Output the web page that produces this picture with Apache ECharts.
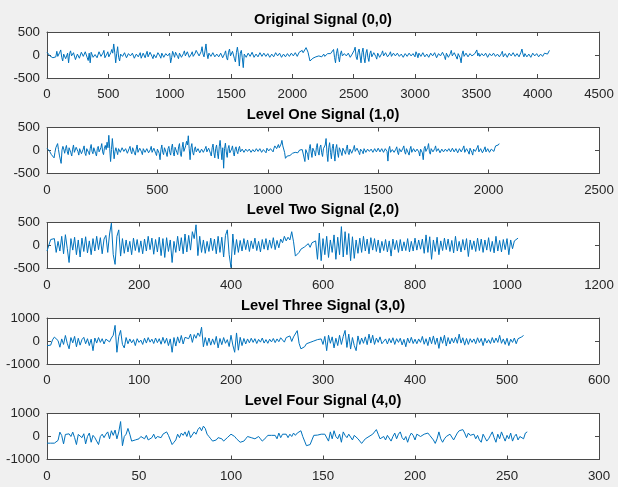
<!DOCTYPE html>
<html>
<head>
<meta charset="utf-8">
<script src="https://cdn.jsdelivr.net/npm/echarts@6/dist/echarts.min.js"></script>
<style>
  html, body { margin: 0; padding: 0; background: #f0f0f0; }
  #chart { width: 618px; height: 487px; }
</style>
</head>
<body>
<div id="chart"></div>
<script>
// ---- Data ----
const titles = ['Original Signal (0,0)', 'Level One Signal (1,0)', 'Level Two Signal (2,0)', 'Level Three Signal (3,0)', 'Level Four Signal (4,0)'];
const xMaxes = [4500, 2500, 1200, 600, 300];
const xIntervals = [500, 500, 200, 100, 50];
const yMaxes = [500, 500, 500, 1000, 1000];
const sampleSteps = [8, 4, 4, 2, 1];

const originalSignal = [
  60, 20, 40, -20, 0, -50, -60, -90, -100, -40, 80, -30, -40, 60, 110, -50, -130, 20, 60, -80,
  -50, 40, -170, 30, 90, -20, -60, 50, 70, -100, -100, 20, 50, -70, -90, 60, 100, -30, -40, 70,
  80, -60, -120, 40, -170, 60, 60, -50, -70, 10, 40, -60, -80, 70, 90, -30, -50, 40, 100, -60,
  -90, 20, 70, -40, -60, 50, 120, 40, 240, 60, -170, 30, 180, -50, -130, 20, 60, -30, -70, 50,
  50, -60, -40, 30, 70, -20, -60, 40, 30, -70, -80, 20, 60, -40, -20, 50, -70, -30, 40, 60,
  -60, 20, 80, -40, -50, 60, 70, -30, -80, 10, 30, -60, -40, 50, 90, -20, -70, 40, 50, -50,
  -90, 30, 60, -20, -30, 40, -170, -60, 80, 20, -50, 60, 60, -30, -80, 40, 40, -50, -70, 30,
  90, -20, -40, 70, 60, -50, -90, 20, 70, -30, -60, 40, 100, 60, 120, -20, -60, 70, 180, 20,
  -40, 90, 240, 30, -80, 40, 60, -30, -50, 50, 30, -40, -60, 20, 50, -40, -30, 40, 40, -60,
  -70, 30, 90, -60, -110, 60, 130, -20, -60, 80, 110, -80, -150, 50, 170, 20, -240, 40, 100, -60,
  -275, 20, 60, -50, -80, 40, 80, -30, -40, 60, 70, -50, -90, 20, 30, -40, -60, 50, 50, -30,
  -70, 40, 60, -30, -40, 30, 50, -50, -60, 20, 30, -40, -50, 50, 60, -20, -30, 40, 40, -50,
  -60, 20, 50, -40, -20, 30, 60, -30, -50, 40, 70, -20, -10, 50, 40, -30, -30, 60, 80, 20,
  100, 50, 30, 90, 160, 120, 60, -40, -130, -90, -110, -70, -80, -40, -40, -60, -60, -20, -10, -50,
  -40, 0, 20, -30, -20, 10, 30, -10, 0, 30, 40, 60, 120, -50, -170, 40, 140, -30, -150, 20,
  90, -20, -40, 30, 50, -20, -30, 40, 40, -50, -50, 20, 30, 100, 170, -40, -100, 60, 130, -20,
  -170, 50, 150, -60, -170, 40, 120, -50, -140, 30, 90, -40, -60, 50, 80, -30, -90, 40, 50, -50,
  -70, 30, 90, -20, -40, 50, 60, -40, -80, 20, 70, -30, -50, 40, 40, -20, -30, 40, 50, -30,
  -40, 20, 30, -50, -50, 30, 40, -30, -20, 40, 50, -20, -40, 30, 30, -40, 70, 20, -60, 40,
  80, -30, -50, 50, 60, -40, -80, 20, 40, -50, -70, 40, 80, -20, -30, 50, 60, -60, -60, 30,
  70, -20, -40, 60, 90, -30, -100, 40, 60, -50, -80, 30, 100, -20, -60, 50, 80, -40, -90, 30,
  50, -60, -170, 20, 90, -30, -70, 40, 60, -40, -50, 30, 40, -20, -60, 20, 30, 40, 110, -20,
  40, -30, -50, 30, 60, -20, -40, 40, 20, -50, -60, 30, 50, -20, -30, 40, 40, -30, -50, 20,
  60, -40, -20, 30, 80, -40, -70, 30, 60, -50, -80, 40, 70, -20, -40, 50, 90, -30, -60, 30,
  50, -40, -80, 60, 130, 20, -40, 30, 60, -40, -70, 20, 30, -50, -60, 40, 70, -20, -50, 30,
  40, -40, -60, 20, 60, -30, -30, 40, 50, 30, 20, 60, 100
];

const levelOneSignal = [
  50, 20, 40, -20, -30, -90, -130, -100, -160, -40, 60, 80, 150, 20, -100, -60, -280, 10, 90, 30,
  -60, 40, 110, -30, -90, 60, 70, -50, -120, 30, 120, -40, -60, 70, 90, -20, -100, 40, 50, -70,
  -80, 30, 100, -60, -110, 40, 60, -40, -90, 50, 130, -20, -70, 60, 80, -60, -120, 40, 90, -30,
  -60, 60, 150, -30, -90, 50, 110, 20, 180, 60, 330, 40, -240, 20, 260, 30, -180, -20, 60, 20,
  -90, 40, 80, -40, -70, 60, 100, -20, -60, 40, 50, -60, -90, 40, 90, -20, -70, 60, 40, -50,
  -100, 30, 120, -40, -60, 50, 70, -30, -90, 40, 80, -40, -50, 40, 60, -50, -80, 20, 90, -40,
  -60, 50, 70, -60, -110, 30, 50, -60, -200, 20, 120, -40, -90, 60, 100, -50, -130, 40, 90, -40,
  -100, 60, 140, -50, -120, 70, 110, -40, -90, 80, 150, -60, -130, 60, 180, -20, -60, 100, 200, 120,
  320, 40, -200, 60, 150, -40, -100, 30, 80, -30, -60, 40, 70, -50, -80, 30, 50, -40, -70, 40,
  90, -30, -60, 50, 80, -60, -120, 60, 140, -50, -160, 40, 120, -60, -180, 80, 220, 20, -200, 60,
  -385, 40, 160, -30, -150, 40, 110, -50, -90, 30, 100, -40, -120, 30, 80, -20, -70, 40, 90, -30,
  -60, 30, 50, -40, -80, 30, 70, -20, -40, 30, 60, -40, -70, 20, 50, -30, -50, 40, 80, -20,
  -30, 40, 60, -40, -70, 20, 40, -20, -50, 50, 90, -10, -40, 40, 70, 10, -30, 50, 100, 60,
  40, 80, 130, 60, 80, 140, 220, 100, 60, -40, -170, -140, -120, -100, -90, -110, -110, -80, -60, -90,
  -80, -40, -30, -60, -50, -10, 10, -30, -20, 20, 40, 0, -240, 20, 60, -80, -200, 40, 130, -30,
  -150, 50, 90, -40, -120, 60, 150, -30, -100, 70, 120, -50, -130, 40, 80, 120, 260, -60, -240, 60,
  170, -40, -180, 50, 140, -60, -230, 40, 130, -50, -150, 60, 100, -40, -110, 50, 90, -30, -80, 40,
  120, -40, -90, 30, 70, -60, -100, 40, 110, -20, -60, 50, 80, -40, -90, 30, 60, -20, -70, 40,
  50, -40, -60, 30, 70, -20, -40, 30, 60, -40, -50, 40, 80, -30, -60, 50, 40, -30, -50, 40,
  70, -40, -80, 40, 60, -20, -230, 30, 90, -40, -70, 20, 50, -40, -60, 30, 80, -40, -90, 40,
  70, -30, -60, 50, 100, -30, -80, 40, 60, -50, -100, 30, 90, -40, -70, 40, 80, -30, -60, 30,
  50, -30, -120, 30, 70, -50, -200, 40, 90, -20, -60, 60, 150, -30, -80, 40, 60, -30, -70, 40,
  100, -20, -50, 40, 80, -50, -90, 30, 60, -30, -70, 30, 50, -20, -60, 40, 80, -30, -40, 50,
  70, -30, -60, 40, 50, -50, -90, 40, 80, -30, -60, 50, 100, -40, -70, 40, 60, -30, -80, 50,
  90, -40, -100, 30, 70, -20, -50, 60, 110, -30, -60, 40, 60, -50, -90, 30, 80, -30, -50, 40,
  70, -40, -80, 30, 60, -10, -20, 50, 100, 60, 90, 120, 150
];

const levelTwoSignal = [
  -120, -100, 130, 100, 150, -150, 90, -120, 200, -180,
  235, -60, -370, 150, -100, 180, -200, 120, -250, 160,
  -130, 190, -160, 100, -200, 150, -120, 200, -90, 170,
  -180, 140, 220, -150, 250, 485, -200, -410, 200, 340,
  -230, 150, -170, 120, -140, 90, -200, 160, -110, 130,
  -150, 100, -180, 140, -120, 200, -90, 160, -190, 130,
  -140, 180, -220, 150, -260, 170, -130, 120, -370, 90,
  -150, 200, -120, 170, -180, 250, -140, 220, -100, 300,
  150, 450, -220, 200, -150, 120, -170, 90, -130, 160,
  -110, 140, -180, 200, -150, 180, -250, 220, 340, -200,
  -480, 250, -200, 130, -150, 110, -120, 150, -90, 120,
  -130, 100, -70, 160, -110, 90, -140, 130, -80, 150,
  -100, 120, -60, 170, -90, 110, -50, 140, 60, 200,
  100, 180, 120, 300, 80, -230, -200, -150, -80, -120,
  -30, -70, 40, -40, 60, 20, 100, -300, 270, -330,
  150, -200, 200, -260, 120, -150, 230, -300, 180, -200,
  410, -250, 300, -200, 260, -330, 190, -280, 120, -170,
  160, -150, 200, -120, 140, -180, 170, -100, 150, -130,
  120, -160, 90, -110, 130, -140, 100, -230, 140, -90,
  110, -150, 130, -120, 80, -110, 150, -140, 90, -120,
  160, -100, 120, -80, 140, -170, 230, -150, 190, -300,
  120, -130, 180, -200, 100, -110, 160, -90, 140, -130,
  110, -160, 200, -120, 90, -140, 130, -100, 150, -240,
  120, -90, 100, -130, 160, -110, 140, -150, 120, -100,
  170, -130, 90, -160, 200, -120, 110, -140, 130, -90,
  150, -200, 120, -70, 100, 60, 160
];

const levelThreeSignal = [
  -200, -200, -180, 50, 170, 130, 20, -270, 90, -150,
  240, -100, -340, 150, -80, 200, -250, 120, -180, 60,
  160, -120, 100, -200, 80, -420, 130, -90, 150, -60,
  100, -130, 80, 160, -40, 130, 250, 680, -490, 200,
  460, -150, -300, 150, -120, 90, -80, 60, -200, 100,
  -60, 40, -150, 120, -90, 150, -50, 80, -110, 130,
  -70, 100, -140, 160, -100, 120, -200, 90, -490, 150,
  -220, 180, -90, 240, -130, 160, 220, 100, 300, -60,
  280, 120, 350, 200, 600, -250, 150, -200, 130, -180,
  90, -150, 200, -300, 110, -160, 150, -100, 60, -240,
  250, -180, -490, 350, -400, 160, -200, 110, -130, 90,
  -80, 120, -60, 100, -110, 70, -50, 130, -90, 60,
  -100, 80, -40, 110, -70, 90, -30, 140, 60, -50,
  150, 80, 220, -20, 180, 100, 450, -100, -340, -300,
  -250, -120, -160, -60, -90, 0, -40, 60, 20, 90,
  -150, 200, -420, 250, -100, 180, -300, 120, -200, 250,
  -150, 200, 460, -280, 300, -350, 150, -200, -420, 220,
  -150, 130, -100, 180, -160, 300, -90, 250, -150, 130,
  -60, 180, -120, -200, 90, -130, 110, -80, 140, -150,
  100, -60, 120, -170, 70, -250, 130, -90, 160, -110,
  80, -120, 90, -60, 200, -140, 100, -200, 170, -120,
  220, -150, 130, -320, 180, -100, 250, -220, 150, -130,
  120, -80, 160, -100, 300, -90, 140, -180, 110, -150,
  100, -60, 90, -120, 140, -70, 110, -200, 120, -90,
  60, -110, 150, -80, 130, -60, 250, -100, 90, -150,
  120, -200, 80, -60, 130, -120, 100, 60, 180, 240
];

const levelFourSignal = [
  -290, -290, -290, -290, -290, -290, -170, 190, 40, -320,
  90, 145, 115, 0, 190, -50, -350, 90, 150, -50,
  120, -320, 0, 150, -250, 50, -50, -100, -350, 0,
  100, -50, 100, 200, -100, 250, 50, 280, -100, 200,
  650, -400, 0, 100, 350, 100, -200, -250, -150, -150,
  -100, 0, -50, -100, 50, -150, -200, -50, 100, -100,
  0, 50, -50, 100, 100, 200, 50, -150, -350, -250,
  -150, 100, -50, 150, 50, 200, 0, 250, -50, -100,
  200, 100, 300, 400, 250, 450, 350, 100, 0, -100,
  -200, -250, -150, -50, 0, -100, -200, -150, -50, 0,
  100, 50, 0, -100, -150, -250, -300, -200, -100, 0,
  50, -50, 0, -100, -50, 0, -100, -200, -150, -50,
  50, 100, 50, 0, 50, -100, 150, -50, 100, 150,
  100, -50, 100, 0, 150, 50, 150, 200, 250, 0,
  -200, -400, -420, -350, -150, 50, 80, 60, 80, 100,
  80, 100, 120, -200, 200, -100, 250, 0, -100, 100,
  -250, 200, 50, -50, 100, 150, -150, 50, 0, -100,
  -150, -300, -200, -100, -150, 0, 50, 100, 150, 300,
  100, -100, -50, 0, -150, 50, 100, -200, 0, 150,
  -100, 100, 200, -50, -150, 0, -250, 0, 150, 50,
  -150, 100, 150, 0, -50, 100, 50, 150, 50, 0,
  -150, -300, -100, 200, -100, -250, -100, 0, -50, 100,
  50, -150, -100, 150, 250, 200, 300, 150, -50, 150,
  50, 0, 100, -100, 50, -150, -250, 100, -50, -200,
  -100, 50, 200, -50, -250, 100, -100, 200, 0, -200,
  50, -100, 150, -200, 0, 100, -150, 0, 50, -100,
  150, 200
];

const signals = [originalSignal, levelOneSignal, levelTwoSignal, levelThreeSignal, levelFourSignal];

// ---- Layout ----
const boxTops = [32, 127.5, 222.5, 318, 413.5];
const boxHeight = 46;
const boxLeft = 47;
const boxRight = 19;
const FONT = "'Liberation Sans', Arial, Helvetica, sans-serif";
const AXIS_COLOR = '#4a4a4a';
const TEXT_COLOR = '#262626';
const LINE_COLOR = '#0072BD';

const grid = [], xAxis = [], yAxis = [], series = [], title = [];

for (let k = 0; k < 5; k++) {
  grid.push({
    left: boxLeft, right: boxRight, top: boxTops[k], height: boxHeight,
    show: true, backgroundColor: '#ffffff', borderWidth: 0, containLabel: false
  });
  title.push({
    text: titles[k],
    left: 323, top: boxTops[k] - 20, textAlign: 'center', padding: 0,
    textStyle: { fontFamily: FONT, fontSize: 14.7, fontWeight: 'bold', color: '#000000' }
  });
  const xCommon = {
    type: 'value', gridIndex: k, min: 0, max: xMaxes[k], interval: xIntervals[k],
    axisLine: { show: true, onZero: false, lineStyle: { color: AXIS_COLOR, width: 1 } },
    axisTick: { show: true, inside: true, length: 4, lineStyle: { color: AXIS_COLOR, width: 1 } },
    splitLine: { show: false }
  };
  xAxis.push(Object.assign({}, xCommon, {
    position: 'bottom',
    axisLabel: { show: true, margin: 10, color: TEXT_COLOR, fontFamily: FONT, fontSize: 13.3,
      formatter: v => String(v) }
  }));
  xAxis.push(Object.assign({}, xCommon, { position: 'top', axisLabel: { show: false } }));
  const yCommon = {
    type: 'value', gridIndex: k, min: -yMaxes[k], max: yMaxes[k], interval: yMaxes[k],
    axisLine: { show: true, onZero: false, lineStyle: { color: AXIS_COLOR, width: 1 } },
    axisTick: { show: true, inside: true, length: 4, lineStyle: { color: AXIS_COLOR, width: 1 } },
    splitLine: { show: false }
  };
  yAxis.push(Object.assign({}, yCommon, {
    position: 'left',
    axisLabel: { show: true, margin: 7, color: TEXT_COLOR, fontFamily: FONT, fontSize: 13.3,
      formatter: v => String(v) }
  }));
  yAxis.push(Object.assign({}, yCommon, { position: 'right', axisLabel: { show: false } }));

  const step = sampleSteps[k];
  series.push({
    type: 'line',
    xAxisIndex: 2 * k,
    yAxisIndex: 2 * k,
    data: signals[k].map((v, i) => [i * step, v]),
    showSymbol: false,
    symbol: 'none',
    lineStyle: { color: LINE_COLOR, width: 1 },
    itemStyle: { color: LINE_COLOR },
    animation: false,
    silent: true
  });
}

const chart = echarts.init(document.getElementById('chart'), null, { renderer: 'canvas' });
chart.setOption({
  backgroundColor: '#f0f0f0',
  animation: false,
  title, grid, xAxis, yAxis, series
});
</script>
</body>
</html>
